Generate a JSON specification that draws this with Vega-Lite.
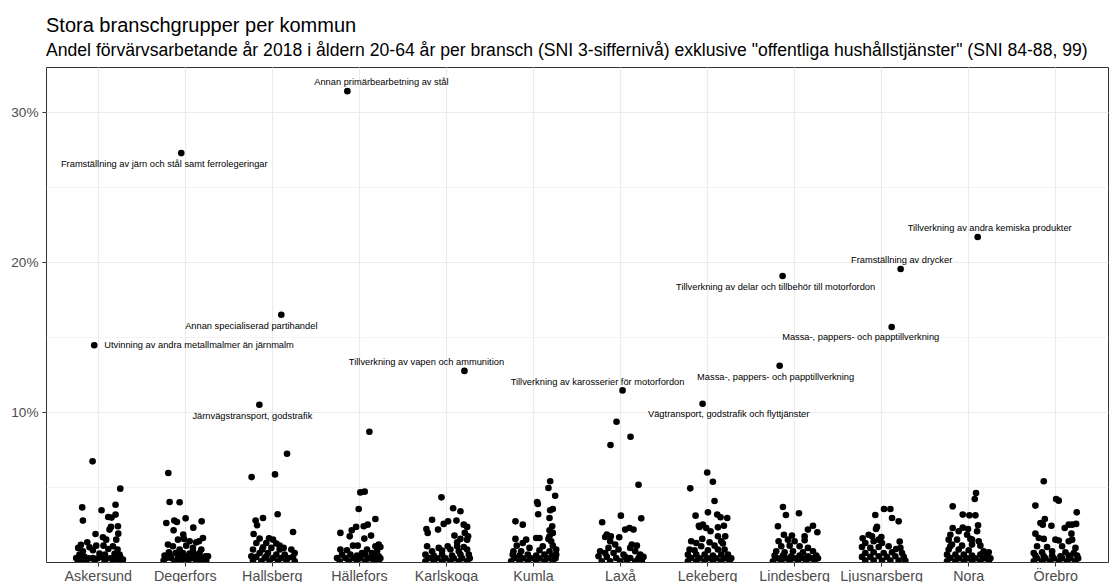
{
"$schema": "https://vega.github.io/schema/vega-lite/v6.json",
"width": 1062, "height": 495,
"autosize": {"type": "none"},
"padding": {"left": 46, "top": 67, "right": 2, "bottom": 20},
"background": "white",
"title": {"text": "Stora branschgrupper per kommun", "subtitle": "Andel förvärvsarbetande år 2018 i åldern 20-64 år per bransch (SNI 3-siffernivå) exklusive \"offentliga hushållstjänster\" (SNI 84-88, 99)", "anchor": "start", "frame": "group", "font": "Liberation Sans", "fontSize": 20, "fontWeight": "normal", "color": "#000000", "subtitleFont": "Liberation Sans", "subtitleFontSize": 17.6, "subtitleColor": "#000000", "subtitlePadding": 6, "offset": 7},
"config": {"view": {"stroke": "#333333", "strokeWidth": 1}},
"data": {"values": [
{"k":"Askersund","j":-0.046,"v":14.45,"t":"Utvinning av andra metallmalmer än järnmalm"},
{"k":"Askersund","j":-0.065,"v":6.71},{"k":"Askersund","j":0.253,"v":4.89},{"k":"Askersund","j":-0.184,"v":3.64},{"k":"Askersund","j":0.199,"v":3.82},{"k":"Askersund","j":0.038,"v":3.45},{"k":"Askersund","j":0.115,"v":3.0},{"k":"Askersund","j":0.153,"v":2.96},{"k":"Askersund","j":-0.176,"v":2.76},{"k":"Askersund","j":0.199,"v":3.16},{"k":"Askersund","j":0.146,"v":2.34},{"k":"Askersund","j":0.226,"v":2.38},{"k":"Askersund","j":0.13,"v":2.16},{"k":"Askersund","j":-0.031,"v":1.87},{"k":"Askersund","j":0.23,"v":1.89},{"k":"Askersund","j":0.054,"v":1.65},{"k":"Askersund","j":0.092,"v":1.49},{"k":"Askersund","j":0.207,"v":1.49},{"k":"Askersund","j":-0.126,"v":1.31},{"k":"Askersund","j":-0.199,"v":1.14},{"k":"Askersund","j":-0.023,"v":1.09},{"k":"Askersund","j":0.061,"v":1.09},{"k":"Askersund","j":0.169,"v":1.05},{"k":"Askersund","j":-0.23,"v":0.94},{"k":"Askersund","j":-0.1,"v":0.98},{"k":"Askersund","j":0.115,"v":0.87},{"k":"Askersund","j":-0.176,"v":0.72},{"k":"Askersund","j":-0.061,"v":0.78},{"k":"Askersund","j":0.222,"v":0.83},{"k":"Askersund","j":-0.215,"v":0.49},{"k":"Askersund","j":0.015,"v":0.56},{"k":"Askersund","j":0.077,"v":0.49},{"k":"Askersund","j":0.188,"v":0.54},{"k":"Askersund","j":0.245,"v":0.49},{"k":"Askersund","j":-0.253,"v":0.27},{"k":"Askersund","j":-0.207,"v":0.25},{"k":"Askersund","j":-0.157,"v":0.34},{"k":"Askersund","j":-0.107,"v":0.25},{"k":"Askersund","j":-0.061,"v":0.27},{"k":"Askersund","j":-0.004,"v":0.25},{"k":"Askersund","j":0.046,"v":0.34},{"k":"Askersund","j":0.1,"v":0.25},{"k":"Askersund","j":0.153,"v":0.27},{"k":"Askersund","j":0.207,"v":0.25},{"k":"Askersund","j":0.253,"v":0.34},{"k":"Askersund","j":-0.234,"v":0.05},{"k":"Askersund","j":-0.138,"v":0.05},{"k":"Askersund","j":-0.042,"v":0.04},{"k":"Askersund","j":0.073,"v":0.04},{"k":"Askersund","j":0.169,"v":0.05},{"k":"Askersund","j":0.245,"v":0.04},{"k":"Askersund","j":-0.176,"v":0.16},{"k":"Askersund","j":0.284,"v":0.16},
{"k":"Degerfors","j":-0.046,"v":27.26,"t":"Framställning av järn och stål samt ferrolegeringar"},
{"k":"Degerfors","j":-0.195,"v":5.93},{"k":"Degerfors","j":-0.18,"v":4.0},{"k":"Degerfors","j":-0.065,"v":3.98},{"k":"Degerfors","j":-0.218,"v":2.6},{"k":"Degerfors","j":-0.126,"v":2.76},{"k":"Degerfors","j":-0.096,"v":2.67},{"k":"Degerfors","j":0.004,"v":2.91},{"k":"Degerfors","j":0.188,"v":2.71},{"k":"Degerfors","j":-0.134,"v":2.11},{"k":"Degerfors","j":0.092,"v":2.29},{"k":"Degerfors","j":-0.023,"v":1.83},{"k":"Degerfors","j":-0.084,"v":1.49},{"k":"Degerfors","j":-0.015,"v":1.54},{"k":"Degerfors","j":0.203,"v":1.6},{"k":"Degerfors","j":0.05,"v":1.38},{"k":"Degerfors","j":0.126,"v":1.31},{"k":"Degerfors","j":0.157,"v":1.38},{"k":"Degerfors","j":-0.199,"v":1.16},{"k":"Degerfors","j":-0.142,"v":1.05},{"k":"Degerfors","j":0.011,"v":1.09},{"k":"Degerfors","j":0.088,"v":0.94},{"k":"Degerfors","j":-0.065,"v":0.83},{"k":"Degerfors","j":-0.238,"v":0.43},{"k":"Degerfors","j":-0.18,"v":0.49},{"k":"Degerfors","j":-0.111,"v":0.6},{"k":"Degerfors","j":-0.027,"v":0.6},{"k":"Degerfors","j":0.05,"v":0.56},{"k":"Degerfors","j":0.107,"v":0.49},{"k":"Degerfors","j":0.165,"v":0.6},{"k":"Degerfors","j":0.234,"v":0.38},{"k":"Degerfors","j":0.261,"v":0.38},{"k":"Degerfors","j":-0.218,"v":0.27},{"k":"Degerfors","j":-0.161,"v":0.27},{"k":"Degerfors","j":-0.084,"v":0.27},{"k":"Degerfors","j":-0.008,"v":0.25},{"k":"Degerfors","j":0.069,"v":0.25},{"k":"Degerfors","j":0.146,"v":0.25},{"k":"Degerfors","j":0.203,"v":0.25},{"k":"Degerfors","j":-0.249,"v":0.1},{"k":"Degerfors","j":-0.123,"v":0.05},{"k":"Degerfors","j":-0.046,"v":0.05},{"k":"Degerfors","j":0.031,"v":0.05},{"k":"Degerfors","j":0.126,"v":0.05},{"k":"Degerfors","j":0.184,"v":0.05},{"k":"Degerfors","j":0.241,"v":0.1},{"k":"Degerfors","j":-0.065,"v":0.43},{"k":"Degerfors","j":0.011,"v":0.38},{"k":"Degerfors","j":0.088,"v":0.72},{"k":"Degerfors","j":0.184,"v":0.83},{"k":"Degerfors","j":-0.188,"v":0.65},
{"k":"Hallsberg","j":-0.149,"v":10.48,"t":"Järnvägstransport, godstrafik"},
{"k":"Hallsberg","j":0.103,"v":16.48,"t":"Annan specialiserad partihandel"},
{"k":"Hallsberg","j":0.169,"v":7.22},{"k":"Hallsberg","j":-0.238,"v":5.66},{"k":"Hallsberg","j":0.031,"v":5.84},{"k":"Hallsberg","j":-0.192,"v":2.76},{"k":"Hallsberg","j":-0.176,"v":2.45},{"k":"Hallsberg","j":-0.107,"v":2.93},{"k":"Hallsberg","j":0.061,"v":3.18},{"k":"Hallsberg","j":0.238,"v":2.0},{"k":"Hallsberg","j":-0.215,"v":1.87},{"k":"Hallsberg","j":-0.146,"v":1.56},{"k":"Hallsberg","j":-0.038,"v":1.58},{"k":"Hallsberg","j":0.008,"v":1.49},{"k":"Hallsberg","j":-0.184,"v":1.27},{"k":"Hallsberg","j":-0.069,"v":1.27},{"k":"Hallsberg","j":0.046,"v":1.23},{"k":"Hallsberg","j":0.13,"v":0.94},{"k":"Hallsberg","j":-0.107,"v":0.98},{"k":"Hallsberg","j":-0.011,"v":0.94},{"k":"Hallsberg","j":0.084,"v":0.83},{"k":"Hallsberg","j":-0.222,"v":0.83},{"k":"Hallsberg","j":0.218,"v":0.83},{"k":"Hallsberg","j":-0.146,"v":0.6},{"k":"Hallsberg","j":-0.05,"v":0.6},{"k":"Hallsberg","j":0.046,"v":0.49},{"k":"Hallsberg","j":0.142,"v":0.49},{"k":"Hallsberg","j":0.257,"v":0.6},{"k":"Hallsberg","j":-0.241,"v":0.38},{"k":"Hallsberg","j":-0.184,"v":0.34},{"k":"Hallsberg","j":-0.088,"v":0.27},{"k":"Hallsberg","j":0.008,"v":0.27},{"k":"Hallsberg","j":0.103,"v":0.27},{"k":"Hallsberg","j":0.18,"v":0.27},{"k":"Hallsberg","j":0.238,"v":0.34},{"k":"Hallsberg","j":-0.222,"v":0.1},{"k":"Hallsberg","j":-0.126,"v":0.05},{"k":"Hallsberg","j":-0.031,"v":0.05},{"k":"Hallsberg","j":0.065,"v":0.05},{"k":"Hallsberg","j":0.161,"v":0.05},{"k":"Hallsberg","j":0.257,"v":0.05},{"k":"Hallsberg","j":-0.069,"v":0.38},{"k":"Hallsberg","j":-0.115,"v":0.83},{"k":"Hallsberg","j":0.084,"v":1.09},
{"k":"Hällefors","j":-0.138,"v":31.39,"t":"Annan primärbearbetning av stål"},
{"k":"Hällefors","j":0.115,"v":8.68},{"k":"Hällefors","j":0.011,"v":4.64},{"k":"Hällefors","j":0.061,"v":4.69},{"k":"Hällefors","j":-0.008,"v":3.53},{"k":"Hällefors","j":0.184,"v":2.87},{"k":"Hällefors","j":0.096,"v":2.49},{"k":"Hällefors","j":0.05,"v":2.38},{"k":"Hällefors","j":-0.038,"v":2.34},{"k":"Hällefors","j":-0.218,"v":1.94},{"k":"Hällefors","j":-0.088,"v":2.11},{"k":"Hällefors","j":-0.111,"v":1.71},{"k":"Hällefors","j":0.134,"v":1.76},{"k":"Hällefors","j":0.057,"v":1.56},{"k":"Hällefors","j":-0.073,"v":1.09},{"k":"Hällefors","j":-0.019,"v":1.09},{"k":"Hällefors","j":0.184,"v":1.05},{"k":"Hällefors","j":0.222,"v":1.16},{"k":"Hällefors","j":0.241,"v":1.0},{"k":"Hällefors","j":-0.218,"v":0.83},{"k":"Hällefors","j":-0.142,"v":0.78},{"k":"Hällefors","j":0.088,"v":0.83},{"k":"Hällefors","j":0.031,"v":0.6},{"k":"Hällefors","j":0.146,"v":0.6},{"k":"Hällefors","j":0.203,"v":0.72},{"k":"Hällefors","j":-0.199,"v":0.49},{"k":"Hällefors","j":-0.103,"v":0.49},{"k":"Hällefors","j":-0.027,"v":0.43},{"k":"Hällefors","j":0.069,"v":0.49},{"k":"Hällefors","j":0.165,"v":0.38},{"k":"Hällefors","j":0.222,"v":0.38},{"k":"Hällefors","j":-0.257,"v":0.27},{"k":"Hällefors","j":-0.161,"v":0.27},{"k":"Hällefors","j":-0.065,"v":0.25},{"k":"Hällefors","j":0.011,"v":0.25},{"k":"Hällefors","j":0.107,"v":0.25},{"k":"Hällefors","j":0.184,"v":0.25},{"k":"Hällefors","j":0.241,"v":0.25},{"k":"Hällefors","j":-0.226,"v":0.05},{"k":"Hällefors","j":-0.123,"v":0.05},{"k":"Hällefors","j":-0.027,"v":0.05},{"k":"Hällefors","j":0.069,"v":0.05},{"k":"Hällefors","j":0.165,"v":0.05},{"k":"Hällefors","j":0.222,"v":0.05},
{"k":"Karlskoga","j":0.207,"v":12.74,"t":"Tillverkning av vapen och ammunition"},
{"k":"Karlskoga","j":-0.057,"v":4.31},{"k":"Karlskoga","j":0.077,"v":3.58},{"k":"Karlskoga","j":0.161,"v":3.38},{"k":"Karlskoga","j":-0.165,"v":2.82},{"k":"Karlskoga","j":0.019,"v":2.71},{"k":"Karlskoga","j":0.115,"v":2.76},{"k":"Karlskoga","j":-0.031,"v":2.54},{"k":"Karlskoga","j":0.199,"v":2.49},{"k":"Karlskoga","j":0.238,"v":2.34},{"k":"Karlskoga","j":-0.23,"v":2.2},{"k":"Karlskoga","j":-0.096,"v":2.16},{"k":"Karlskoga","j":-0.215,"v":1.94},{"k":"Karlskoga","j":0.211,"v":1.94},{"k":"Karlskoga","j":0.249,"v":1.71},{"k":"Karlskoga","j":0.092,"v":1.76},{"k":"Karlskoga","j":0.161,"v":1.54},{"k":"Karlskoga","j":0.238,"v":1.49},{"k":"Karlskoga","j":-0.222,"v":1.05},{"k":"Karlskoga","j":-0.088,"v":0.94},{"k":"Karlskoga","j":0.015,"v":1.05},{"k":"Karlskoga","j":0.123,"v":1.05},{"k":"Karlskoga","j":0.199,"v":1.0},{"k":"Karlskoga","j":0.238,"v":0.83},{"k":"Karlskoga","j":-0.165,"v":0.72},{"k":"Karlskoga","j":-0.05,"v":0.76},{"k":"Karlskoga","j":0.046,"v":0.83},{"k":"Karlskoga","j":0.142,"v":0.72},{"k":"Karlskoga","j":-0.241,"v":0.49},{"k":"Karlskoga","j":-0.146,"v":0.43},{"k":"Karlskoga","j":-0.05,"v":0.49},{"k":"Karlskoga","j":0.065,"v":0.43},{"k":"Karlskoga","j":0.161,"v":0.49},{"k":"Karlskoga","j":0.257,"v":0.49},{"k":"Karlskoga","j":-0.203,"v":0.27},{"k":"Karlskoga","j":-0.107,"v":0.25},{"k":"Karlskoga","j":-0.011,"v":0.25},{"k":"Karlskoga","j":0.084,"v":0.25},{"k":"Karlskoga","j":0.18,"v":0.25},{"k":"Karlskoga","j":0.268,"v":0.25},{"k":"Karlskoga","j":-0.241,"v":0.05},{"k":"Karlskoga","j":-0.146,"v":0.05},{"k":"Karlskoga","j":-0.05,"v":0.05},{"k":"Karlskoga","j":0.046,"v":0.05},{"k":"Karlskoga","j":0.142,"v":0.05},{"k":"Karlskoga","j":0.238,"v":0.05},{"k":"Karlskoga","j":0.123,"v":1.31},
{"k":"Kumla","j":0.192,"v":5.38},{"k":"Kumla","j":0.172,"v":4.93},{"k":"Kumla","j":0.249,"v":4.42},{"k":"Kumla","j":0.042,"v":4.0},{"k":"Kumla","j":0.05,"v":3.87},{"k":"Kumla","j":0.054,"v":3.18},{"k":"Kumla","j":0.222,"v":3.53},{"k":"Kumla","j":0.192,"v":3.45},{"k":"Kumla","j":0.184,"v":2.93},{"k":"Kumla","j":-0.207,"v":2.71},{"k":"Kumla","j":-0.123,"v":2.49},{"k":"Kumla","j":0.215,"v":2.38},{"k":"Kumla","j":0.184,"v":2.11},{"k":"Kumla","j":0.222,"v":1.94},{"k":"Kumla","j":-0.207,"v":1.54},{"k":"Kumla","j":-0.084,"v":1.49},{"k":"Kumla","j":0.031,"v":1.6},{"k":"Kumla","j":0.069,"v":1.6},{"k":"Kumla","j":0.172,"v":1.54},{"k":"Kumla","j":-0.123,"v":1.27},{"k":"Kumla","j":-0.192,"v":1.09},{"k":"Kumla","j":0.222,"v":1.09},{"k":"Kumla","j":-0.046,"v":0.94},{"k":"Kumla","j":0.107,"v":1.05},{"k":"Kumla","j":0.261,"v":0.83},{"k":"Kumla","j":-0.23,"v":0.72},{"k":"Kumla","j":-0.142,"v":0.72},{"k":"Kumla","j":0.069,"v":0.78},{"k":"Kumla","j":0.184,"v":0.72},{"k":"Kumla","j":-0.238,"v":0.49},{"k":"Kumla","j":-0.161,"v":0.43},{"k":"Kumla","j":-0.065,"v":0.49},{"k":"Kumla","j":0.031,"v":0.43},{"k":"Kumla","j":0.126,"v":0.49},{"k":"Kumla","j":0.215,"v":0.43},{"k":"Kumla","j":0.261,"v":0.49},{"k":"Kumla","j":-0.218,"v":0.27},{"k":"Kumla","j":-0.123,"v":0.25},{"k":"Kumla","j":-0.027,"v":0.25},{"k":"Kumla","j":0.069,"v":0.25},{"k":"Kumla","j":0.165,"v":0.25},{"k":"Kumla","j":0.253,"v":0.25},{"k":"Kumla","j":-0.257,"v":0.05},{"k":"Kumla","j":-0.161,"v":0.05},{"k":"Kumla","j":-0.065,"v":0.05},{"k":"Kumla","j":0.031,"v":0.05},{"k":"Kumla","j":0.126,"v":0.05},{"k":"Kumla","j":0.222,"v":0.05},{"k":"Kumla","j":0.184,"v":1.71},{"k":"Kumla","j":0.203,"v":1.38},
{"k":"Laxå","j":0.023,"v":11.44,"t":"Tillverkning av karosserier för motorfordon"},
{"k":"Laxå","j":-0.046,"v":9.35},{"k":"Laxå","j":-0.115,"v":7.8},{"k":"Laxå","j":0.115,"v":8.35},{"k":"Laxå","j":0.207,"v":5.15},{"k":"Laxå","j":-0.211,"v":2.65},{"k":"Laxå","j":0.004,"v":3.09},{"k":"Laxå","j":0.238,"v":2.91},{"k":"Laxå","j":-0.157,"v":1.83},{"k":"Laxå","j":-0.111,"v":1.71},{"k":"Laxå","j":-0.176,"v":1.67},{"k":"Laxå","j":-0.015,"v":1.65},{"k":"Laxå","j":0.054,"v":2.16},{"k":"Laxå","j":0.103,"v":2.27},{"k":"Laxå","j":0.149,"v":2.16},{"k":"Laxå","j":-0.119,"v":1.38},{"k":"Laxå","j":-0.061,"v":1.16},{"k":"Laxå","j":-0.138,"v":0.94},{"k":"Laxå","j":-0.023,"v":0.83},{"k":"Laxå","j":0.13,"v":1.16},{"k":"Laxå","j":0.188,"v":1.09},{"k":"Laxå","j":-0.234,"v":0.72},{"k":"Laxå","j":-0.176,"v":0.6},{"k":"Laxå","j":-0.08,"v":0.6},{"k":"Laxå","j":0.034,"v":0.49},{"k":"Laxå","j":0.169,"v":0.72},{"k":"Laxå","j":0.226,"v":0.49},{"k":"Laxå","j":-0.253,"v":0.38},{"k":"Laxå","j":-0.157,"v":0.34},{"k":"Laxå","j":-0.05,"v":0.27},{"k":"Laxå","j":0.054,"v":0.34},{"k":"Laxå","j":0.111,"v":0.27},{"k":"Laxå","j":0.207,"v":0.27},{"k":"Laxå","j":0.264,"v":0.34},{"k":"Laxå","j":-0.215,"v":0.05},{"k":"Laxå","j":-0.119,"v":0.05},{"k":"Laxå","j":-0.004,"v":0.05},{"k":"Laxå","j":0.073,"v":0.05},{"k":"Laxå","j":0.169,"v":0.05},{"k":"Laxå","j":0.245,"v":0.05},{"k":"Laxå","j":0.111,"v":0.94},
{"k":"Lekeberg","j":-0.057,"v":10.55,"t":"Vägtransport, godstrafik och flyttjänster"},
{"k":"Lekeberg","j":-0.004,"v":5.97},{"k":"Lekeberg","j":0.061,"v":5.35},{"k":"Lekeberg","j":-0.199,"v":4.91},{"k":"Lekeberg","j":0.08,"v":4.07},{"k":"Lekeberg","j":0.004,"v":3.31},{"k":"Lekeberg","j":-0.138,"v":3.09},{"k":"Lekeberg","j":0.111,"v":3.16},{"k":"Lekeberg","j":0.149,"v":2.98},{"k":"Lekeberg","j":0.226,"v":2.93},{"k":"Lekeberg","j":-0.054,"v":2.49},{"k":"Lekeberg","j":-0.092,"v":2.34},{"k":"Lekeberg","j":-0.015,"v":2.27},{"k":"Lekeberg","j":0.034,"v":2.05},{"k":"Lekeberg","j":0.188,"v":2.42},{"k":"Lekeberg","j":0.119,"v":2.31},{"k":"Lekeberg","j":-0.061,"v":1.54},{"k":"Lekeberg","j":0.203,"v":1.71},{"k":"Lekeberg","j":-0.188,"v":1.38},{"k":"Lekeberg","j":-0.13,"v":1.27},{"k":"Lekeberg","j":0.023,"v":1.31},{"k":"Lekeberg","j":0.157,"v":1.38},{"k":"Lekeberg","j":0.176,"v":1.23},{"k":"Lekeberg","j":-0.073,"v":1.05},{"k":"Lekeberg","j":0.08,"v":1.09},{"k":"Lekeberg","j":-0.207,"v":0.83},{"k":"Lekeberg","j":-0.149,"v":0.78},{"k":"Lekeberg","j":0.004,"v":0.78},{"k":"Lekeberg","j":0.119,"v":0.83},{"k":"Lekeberg","j":0.195,"v":0.83},{"k":"Lekeberg","j":-0.226,"v":0.49},{"k":"Lekeberg","j":-0.13,"v":0.49},{"k":"Lekeberg","j":-0.034,"v":0.49},{"k":"Lekeberg","j":0.061,"v":0.43},{"k":"Lekeberg","j":0.157,"v":0.49},{"k":"Lekeberg","j":0.234,"v":0.49},{"k":"Lekeberg","j":-0.188,"v":0.27},{"k":"Lekeberg","j":-0.092,"v":0.25},{"k":"Lekeberg","j":0.004,"v":0.25},{"k":"Lekeberg","j":0.1,"v":0.25},{"k":"Lekeberg","j":0.195,"v":0.25},{"k":"Lekeberg","j":0.272,"v":0.25},{"k":"Lekeberg","j":-0.226,"v":0.05},{"k":"Lekeberg","j":-0.13,"v":0.05},{"k":"Lekeberg","j":-0.034,"v":0.05},{"k":"Lekeberg","j":0.061,"v":0.05},{"k":"Lekeberg","j":0.157,"v":0.05},{"k":"Lekeberg","j":0.253,"v":0.05},{"k":"Lekeberg","j":-0.1,"v":2.42},{"k":"Lekeberg","j":0.119,"v":1.71},
{"k":"Lindesberg","j":-0.138,"v":19.07,"t":"Tillverkning av delar och tillbehör till motorfordon"},
{"k":"Lindesberg","j":-0.172,"v":13.08,"t":"Massa-, pappers- och papptillverkning"},
{"k":"Lindesberg","j":-0.134,"v":3.67},{"k":"Lindesberg","j":-0.1,"v":3.13},{"k":"Lindesberg","j":0.05,"v":3.25},{"k":"Lindesberg","j":-0.192,"v":2.38},{"k":"Lindesberg","j":0.211,"v":2.42},{"k":"Lindesberg","j":0.153,"v":2.16},{"k":"Lindesberg","j":0.261,"v":1.98},{"k":"Lindesberg","j":-0.123,"v":1.82},{"k":"Lindesberg","j":-0.031,"v":1.76},{"k":"Lindesberg","j":-0.184,"v":1.38},{"k":"Lindesberg","j":-0.077,"v":1.49},{"k":"Lindesberg","j":0.0,"v":1.38},{"k":"Lindesberg","j":0.115,"v":1.45},{"k":"Lindesberg","j":-0.153,"v":1.05},{"k":"Lindesberg","j":-0.057,"v":1.09},{"k":"Lindesberg","j":0.057,"v":1.05},{"k":"Lindesberg","j":0.153,"v":0.94},{"k":"Lindesberg","j":-0.211,"v":0.72},{"k":"Lindesberg","j":-0.115,"v":0.65},{"k":"Lindesberg","j":-0.019,"v":0.72},{"k":"Lindesberg","j":0.096,"v":0.65},{"k":"Lindesberg","j":0.211,"v":0.72},{"k":"Lindesberg","j":-0.23,"v":0.43},{"k":"Lindesberg","j":-0.134,"v":0.43},{"k":"Lindesberg","j":-0.038,"v":0.38},{"k":"Lindesberg","j":0.057,"v":0.43},{"k":"Lindesberg","j":0.153,"v":0.38},{"k":"Lindesberg","j":0.249,"v":0.43},{"k":"Lindesberg","j":-0.192,"v":0.25},{"k":"Lindesberg","j":-0.096,"v":0.25},{"k":"Lindesberg","j":0.0,"v":0.25},{"k":"Lindesberg","j":0.096,"v":0.25},{"k":"Lindesberg","j":0.192,"v":0.25},{"k":"Lindesberg","j":0.268,"v":0.25},{"k":"Lindesberg","j":-0.249,"v":0.05},{"k":"Lindesberg","j":-0.153,"v":0.05},{"k":"Lindesberg","j":-0.057,"v":0.05},{"k":"Lindesberg","j":0.038,"v":0.05},{"k":"Lindesberg","j":0.134,"v":0.05},{"k":"Lindesberg","j":0.23,"v":0.05},{"k":"Lindesberg","j":0.115,"v":1.71},
{"k":"Ljusnarsberg","j":0.115,"v":15.67,"t":"Massa-, pappers- och papptillverkning"},
{"k":"Ljusnarsberg","j":0.218,"v":19.53,"t":"Framställning av drycker"},
{"k":"Ljusnarsberg","j":0.027,"v":3.53},{"k":"Ljusnarsberg","j":0.1,"v":3.53},{"k":"Ljusnarsberg","j":-0.073,"v":3.13},{"k":"Ljusnarsberg","j":0.119,"v":2.93},{"k":"Ljusnarsberg","j":0.195,"v":2.71},{"k":"Ljusnarsberg","j":-0.054,"v":2.34},{"k":"Ljusnarsberg","j":-0.065,"v":2.2},{"k":"Ljusnarsberg","j":-0.218,"v":1.58},{"k":"Ljusnarsberg","j":-0.149,"v":1.82},{"k":"Ljusnarsberg","j":-0.111,"v":1.71},{"k":"Ljusnarsberg","j":-0.004,"v":1.67},{"k":"Ljusnarsberg","j":-0.188,"v":1.27},{"k":"Ljusnarsberg","j":-0.092,"v":1.38},{"k":"Ljusnarsberg","j":0.004,"v":1.27},{"k":"Ljusnarsberg","j":0.207,"v":1.36},{"k":"Ljusnarsberg","j":-0.226,"v":1.0},{"k":"Ljusnarsberg","j":-0.13,"v":0.94},{"k":"Ljusnarsberg","j":-0.034,"v":1.0},{"k":"Ljusnarsberg","j":0.08,"v":1.05},{"k":"Ljusnarsberg","j":0.165,"v":0.87},{"k":"Ljusnarsberg","j":0.215,"v":0.94},{"k":"Ljusnarsberg","j":-0.188,"v":0.6},{"k":"Ljusnarsberg","j":-0.092,"v":0.65},{"k":"Ljusnarsberg","j":0.023,"v":0.6},{"k":"Ljusnarsberg","j":0.119,"v":0.65},{"k":"Ljusnarsberg","j":0.234,"v":0.6},{"k":"Ljusnarsberg","j":-0.226,"v":0.34},{"k":"Ljusnarsberg","j":-0.13,"v":0.34},{"k":"Ljusnarsberg","j":-0.034,"v":0.38},{"k":"Ljusnarsberg","j":0.061,"v":0.34},{"k":"Ljusnarsberg","j":0.157,"v":0.38},{"k":"Ljusnarsberg","j":0.253,"v":0.34},{"k":"Ljusnarsberg","j":-0.188,"v":0.1},{"k":"Ljusnarsberg","j":-0.092,"v":0.1},{"k":"Ljusnarsberg","j":0.004,"v":0.1},{"k":"Ljusnarsberg","j":0.1,"v":0.1},{"k":"Ljusnarsberg","j":0.195,"v":0.1},{"k":"Ljusnarsberg","j":0.272,"v":0.1},{"k":"Ljusnarsberg","j":-0.034,"v":1.49},
{"k":"Nora","j":0.103,"v":21.67,"t":"Tillverkning av andra kemiska produkter"},
{"k":"Nora","j":0.084,"v":4.6},{"k":"Nora","j":0.069,"v":4.2},{"k":"Nora","j":-0.184,"v":3.71},{"k":"Nora","j":-0.069,"v":3.16},{"k":"Nora","j":0.008,"v":3.11},{"k":"Nora","j":0.077,"v":3.11},{"k":"Nora","j":-0.184,"v":2.27},{"k":"Nora","j":-0.069,"v":2.29},{"k":"Nora","j":-0.008,"v":2.2},{"k":"Nora","j":0.107,"v":2.45},{"k":"Nora","j":0.096,"v":2.05},{"k":"Nora","j":-0.211,"v":1.82},{"k":"Nora","j":-0.115,"v":2.05},{"k":"Nora","j":-0.019,"v":1.82},{"k":"Nora","j":-0.23,"v":1.49},{"k":"Nora","j":-0.134,"v":1.49},{"k":"Nora","j":0.019,"v":1.54},{"k":"Nora","j":0.115,"v":1.38},{"k":"Nora","j":-0.192,"v":1.16},{"k":"Nora","j":-0.077,"v":1.09},{"k":"Nora","j":0.038,"v":1.16},{"k":"Nora","j":0.134,"v":1.09},{"k":"Nora","j":-0.23,"v":0.83},{"k":"Nora","j":-0.115,"v":0.83},{"k":"Nora","j":0.0,"v":0.78},{"k":"Nora","j":0.172,"v":0.72},{"k":"Nora","j":0.23,"v":0.65},{"k":"Nora","j":-0.249,"v":0.49},{"k":"Nora","j":-0.153,"v":0.49},{"k":"Nora","j":-0.057,"v":0.49},{"k":"Nora","j":0.038,"v":0.43},{"k":"Nora","j":0.134,"v":0.49},{"k":"Nora","j":0.211,"v":0.49},{"k":"Nora","j":-0.211,"v":0.27},{"k":"Nora","j":-0.115,"v":0.25},{"k":"Nora","j":-0.019,"v":0.25},{"k":"Nora","j":0.077,"v":0.25},{"k":"Nora","j":0.172,"v":0.25},{"k":"Nora","j":0.249,"v":0.25},{"k":"Nora","j":-0.249,"v":0.05},{"k":"Nora","j":-0.153,"v":0.05},{"k":"Nora","j":-0.057,"v":0.05},{"k":"Nora","j":0.038,"v":0.05},{"k":"Nora","j":0.134,"v":0.05},{"k":"Nora","j":0.23,"v":0.05},{"k":"Nora","j":-0.211,"v":1.05},{"k":"Nora","j":0.038,"v":1.49},
{"k":"Örebro","j":-0.138,"v":5.38},{"k":"Örebro","j":0.004,"v":4.2},{"k":"Örebro","j":0.034,"v":4.09},{"k":"Örebro","j":-0.234,"v":3.76},{"k":"Örebro","j":0.241,"v":3.31},{"k":"Örebro","j":-0.176,"v":2.6},{"k":"Örebro","j":-0.126,"v":2.87},{"k":"Örebro","j":-0.149,"v":2.49},{"k":"Örebro","j":-0.05,"v":2.42},{"k":"Örebro","j":0.103,"v":2.27},{"k":"Örebro","j":0.149,"v":2.49},{"k":"Örebro","j":0.188,"v":2.49},{"k":"Örebro","j":0.234,"v":2.54},{"k":"Örebro","j":0.18,"v":1.89},{"k":"Örebro","j":-0.234,"v":1.89},{"k":"Örebro","j":-0.195,"v":1.6},{"k":"Örebro","j":-0.138,"v":1.54},{"k":"Örebro","j":-0.004,"v":1.49},{"k":"Örebro","j":0.034,"v":1.43},{"k":"Örebro","j":0.149,"v":1.38},{"k":"Örebro","j":-0.215,"v":1.05},{"k":"Örebro","j":-0.1,"v":1.0},{"k":"Örebro","j":0.073,"v":1.05},{"k":"Örebro","j":0.226,"v":0.94},{"k":"Örebro","j":-0.253,"v":0.6},{"k":"Örebro","j":-0.157,"v":0.65},{"k":"Örebro","j":-0.042,"v":0.72},{"k":"Örebro","j":0.111,"v":0.65},{"k":"Örebro","j":0.207,"v":0.6},{"k":"Örebro","j":-0.234,"v":0.43},{"k":"Örebro","j":-0.138,"v":0.38},{"k":"Örebro","j":-0.042,"v":0.43},{"k":"Örebro","j":0.054,"v":0.38},{"k":"Örebro","j":0.149,"v":0.43},{"k":"Örebro","j":0.245,"v":0.43},{"k":"Örebro","j":-0.215,"v":0.25},{"k":"Örebro","j":-0.119,"v":0.25},{"k":"Örebro","j":-0.023,"v":0.25},{"k":"Örebro","j":0.073,"v":0.25},{"k":"Örebro","j":0.169,"v":0.25},{"k":"Örebro","j":0.257,"v":0.25},{"k":"Örebro","j":-0.253,"v":0.05},{"k":"Örebro","j":-0.157,"v":0.05},{"k":"Örebro","j":-0.065,"v":0.05},{"k":"Örebro","j":0.034,"v":0.05},{"k":"Örebro","j":0.13,"v":0.05},{"k":"Örebro","j":0.226,"v":0.05},{"k":"Örebro","j":0.188,"v":1.49}
]},
"encoding": {
  "x": {"field": "k", "type": "nominal", "sort": ["Askersund","Degerfors","Hallsberg","Hällefors","Karlskoga","Kumla","Laxå","Lekeberg","Lindesberg","Ljusnarsberg","Nora","Örebro"],
        "scale": {"type": "band", "paddingInner": 0, "paddingOuter": 0.1},
        "axis": {"title": null, "domain": false, "grid": true, "gridColor": "#EBEBEB", "gridWidth": 1.1, "bandPosition": 0.5, "tickColor": "#333333", "tickSize": 4, "labelFont": "Liberation Sans", "labelFontSize": 14.3, "labelColor": "#4D4D4D", "labelPadding": 3, "labelAngle": 0}},
  "xOffset": {"field": "j", "type": "quantitative", "scale": {"domain": [-0.5, 0.5], "range": [0, 87.05]}},
  "y": {"field": "v", "type": "quantitative", "scale": {"domain": [0, 33], "nice": false},
        "axis": {"title": null, "values": [5,10,15,20,25,30], "labelExpr": "datum.value % 10 === 0 ? datum.value + '%' : ''", "domain": false, "grid": true, "gridColor": "#EBEBEB",
                 "gridWidth": {"condition": {"test": "datum.value % 10 === 0", "value": 1.1}, "value": 0.55},
                 "tickOpacity": {"condition": {"test": "datum.value % 10 === 0", "value": 1}, "value": 0},
                 "tickColor": "#333333", "tickSize": 4, "labelFont": "Liberation Sans", "labelFontSize": 13.6, "labelColor": "#4D4D4D", "labelPadding": 4}}
},
"layer": [
  {"mark": {"type": "circle", "size": 44, "color": "#000000", "opacity": 1, "clip": true}},
  {"transform": [{"filter": "datum.t === 'Utvinning av andra metallmalmer än järnmalm'"}], "mark": {"type": "text", "align": "left", "baseline": "middle", "dx": 10, "dy": 0, "font": "Liberation Sans", "fontSize": 9.3, "color": "#000000"}, "encoding": {"text": {"field": "t"}}},
  {"transform": [{"filter": "datum.t === 'Framställning av järn och stål samt ferrolegeringar'"}], "mark": {"type": "text", "align": "center", "baseline": "middle", "dx": -17, "dy": 11, "font": "Liberation Sans", "fontSize": 9.3, "color": "#000000"}, "encoding": {"text": {"field": "t"}}},
  {"transform": [{"filter": "datum.t === 'Annan specialiserad partihandel'"}], "mark": {"type": "text", "align": "center", "baseline": "middle", "dx": -30, "dy": 11, "font": "Liberation Sans", "fontSize": 9.3, "color": "#000000"}, "encoding": {"text": {"field": "t"}}},
  {"transform": [{"filter": "datum.t === 'Järnvägstransport, godstrafik'"}], "mark": {"type": "text", "align": "center", "baseline": "middle", "dx": -7, "dy": 11, "font": "Liberation Sans", "fontSize": 9.3, "color": "#000000"}, "encoding": {"text": {"field": "t"}}},
  {"transform": [{"filter": "datum.t === 'Annan primärbearbetning av stål'"}], "mark": {"type": "text", "align": "center", "baseline": "middle", "dx": 34, "dy": -9, "font": "Liberation Sans", "fontSize": 9.3, "color": "#000000"}, "encoding": {"text": {"field": "t"}}},
  {"transform": [{"filter": "datum.t === 'Tillverkning av vapen och ammunition'"}], "mark": {"type": "text", "align": "center", "baseline": "middle", "dx": -38, "dy": -9, "font": "Liberation Sans", "fontSize": 9.3, "color": "#000000"}, "encoding": {"text": {"field": "t"}}},
  {"transform": [{"filter": "datum.t === 'Tillverkning av karosserier för motorfordon'"}], "mark": {"type": "text", "align": "center", "baseline": "middle", "dx": -25, "dy": -8, "font": "Liberation Sans", "fontSize": 9.3, "color": "#000000"}, "encoding": {"text": {"field": "t"}}},
  {"transform": [{"filter": "datum.t === 'Vägtransport, godstrafik och flyttjänster'"}], "mark": {"type": "text", "align": "center", "baseline": "middle", "dx": 26, "dy": 10, "font": "Liberation Sans", "fontSize": 9.3, "color": "#000000"}, "encoding": {"text": {"field": "t"}}},
  {"transform": [{"filter": "datum.t === 'Tillverkning av delar och tillbehör till motorfordon'"}], "mark": {"type": "text", "align": "center", "baseline": "middle", "dx": -7, "dy": 11, "font": "Liberation Sans", "fontSize": 9.3, "color": "#000000"}, "encoding": {"text": {"field": "t"}}},
  {"transform": [{"filter": "datum.t === 'Massa-, pappers- och papptillverkning' && datum.k === 'Lindesberg'"}], "mark": {"type": "text", "align": "center", "baseline": "middle", "dx": -4, "dy": 11, "font": "Liberation Sans", "fontSize": 9.3, "color": "#000000"}, "encoding": {"text": {"field": "t"}}},
  {"transform": [{"filter": "datum.t === 'Massa-, pappers- och papptillverkning' && datum.k === 'Ljusnarsberg'"}], "mark": {"type": "text", "align": "center", "baseline": "middle", "dx": -31, "dy": 10, "font": "Liberation Sans", "fontSize": 9.3, "color": "#000000"}, "encoding": {"text": {"field": "t"}}},
  {"transform": [{"filter": "datum.t === 'Framställning av drycker'"}], "mark": {"type": "text", "align": "center", "baseline": "middle", "dx": 1, "dy": -9, "font": "Liberation Sans", "fontSize": 9.3, "color": "#000000"}, "encoding": {"text": {"field": "t"}}},
  {"transform": [{"filter": "datum.t === 'Tillverkning av andra kemiska produkter'"}], "mark": {"type": "text", "align": "center", "baseline": "middle", "dx": 12, "dy": -9, "font": "Liberation Sans", "fontSize": 9.3, "color": "#000000"}, "encoding": {"text": {"field": "t"}}}
]
}
